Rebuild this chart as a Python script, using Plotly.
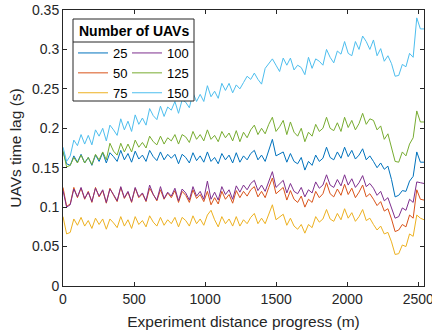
import plotly.graph_objects as go

# ---------------- data ----------------
n_points = 101
distance = [round(25.4 * i, 1) for i in range(n_points)]  # experiment distance progress (m)

uav_counts = ["25", "50", "75", "100", "125", "150"]

lag_25 = [0.170, 0.155, 0.153, 0.165, 0.157, 0.167, 0.156, 0.163, 0.153, 0.166,
          0.158, 0.169, 0.156, 0.169, 0.164, 0.158, 0.172, 0.160, 0.168, 0.157,
          0.171, 0.161, 0.166, 0.158, 0.172, 0.164, 0.159, 0.170, 0.160, 0.167,
          0.162, 0.167, 0.155, 0.167, 0.163, 0.156, 0.169, 0.159, 0.165, 0.157,
          0.170, 0.158, 0.163, 0.155, 0.168, 0.160, 0.166, 0.156, 0.169, 0.157,
          0.165, 0.160, 0.168, 0.172, 0.160, 0.166, 0.158, 0.172, 0.186, 0.165,
          0.168, 0.170, 0.157, 0.168, 0.158, 0.155, 0.163, 0.147, 0.158, 0.153,
          0.166, 0.158, 0.162, 0.176, 0.163, 0.160, 0.170, 0.162, 0.176, 0.164,
          0.172, 0.161, 0.166, 0.174, 0.160, 0.165, 0.158, 0.150, 0.156, 0.148,
          0.152, 0.135, 0.113, 0.115, 0.121, 0.120, 0.133, 0.139, 0.170, 0.157, 0.157]

lag_50 = [0.125, 0.101, 0.104, 0.125, 0.112, 0.124, 0.110, 0.120, 0.106, 0.125,
          0.113, 0.121, 0.105, 0.124, 0.115, 0.107, 0.125, 0.111, 0.119, 0.106,
          0.124, 0.112, 0.117, 0.107, 0.124, 0.115, 0.108, 0.122, 0.110, 0.118,
          0.112, 0.121, 0.106, 0.120, 0.115, 0.106, 0.122, 0.111, 0.116, 0.107,
          0.120, 0.103, 0.112, 0.104, 0.120, 0.110, 0.116, 0.105, 0.121, 0.112,
          0.120, 0.114, 0.122, 0.126, 0.113, 0.120, 0.112, 0.125, 0.137, 0.117,
          0.121, 0.125, 0.109, 0.121, 0.110, 0.106, 0.114, 0.100, 0.110, 0.106,
          0.120, 0.112, 0.117, 0.131, 0.117, 0.113, 0.123, 0.115, 0.129, 0.116,
          0.124, 0.112, 0.119, 0.128, 0.113, 0.117, 0.110, 0.102, 0.107, 0.095,
          0.098, 0.085, 0.069, 0.071, 0.078, 0.075, 0.090, 0.086, 0.122, 0.110, 0.109]

lag_75 = [0.088, 0.066, 0.068, 0.085, 0.077, 0.087, 0.076, 0.083, 0.073, 0.086,
          0.078, 0.085, 0.072, 0.085, 0.080, 0.074, 0.088, 0.076, 0.084, 0.073,
          0.088, 0.078, 0.083, 0.075, 0.089, 0.081, 0.076, 0.087, 0.077, 0.084,
          0.079, 0.087, 0.075, 0.087, 0.083, 0.076, 0.089, 0.079, 0.085, 0.077,
          0.090, 0.096, 0.084, 0.075, 0.088, 0.079, 0.085, 0.076, 0.088, 0.076,
          0.084, 0.079, 0.087, 0.092, 0.079, 0.086, 0.079, 0.092, 0.103, 0.084,
          0.088, 0.091, 0.077, 0.086, 0.076, 0.072, 0.078, 0.067, 0.078, 0.074,
          0.088, 0.081, 0.085, 0.097, 0.085, 0.082, 0.092, 0.084, 0.098, 0.086,
          0.093, 0.082, 0.088, 0.097, 0.083, 0.086, 0.078, 0.071, 0.076, 0.066,
          0.068, 0.056, 0.040, 0.041, 0.052, 0.050, 0.066, 0.063, 0.090, 0.086, 0.084]

lag_100 = [0.121, 0.100, 0.103, 0.123, 0.113, 0.125, 0.111, 0.119, 0.107, 0.124,
           0.114, 0.122, 0.106, 0.123, 0.116, 0.108, 0.126, 0.112, 0.120, 0.107,
           0.125, 0.113, 0.118, 0.108, 0.128, 0.116, 0.109, 0.126, 0.111, 0.119,
           0.114, 0.124, 0.108, 0.123, 0.118, 0.109, 0.126, 0.114, 0.120, 0.110,
           0.133, 0.110, 0.119, 0.109, 0.126, 0.116, 0.122, 0.110, 0.127, 0.119,
           0.128, 0.122, 0.130, 0.134, 0.121, 0.128, 0.120, 0.133, 0.145, 0.125,
           0.130, 0.134, 0.118, 0.130, 0.120, 0.117, 0.125, 0.113, 0.122, 0.118,
           0.132, 0.124, 0.128, 0.141, 0.128, 0.125, 0.135, 0.127, 0.141, 0.128,
           0.136, 0.125, 0.131, 0.140, 0.126, 0.130, 0.124, 0.115, 0.120, 0.108,
           0.112, 0.100, 0.086, 0.088, 0.099, 0.096, 0.110, 0.106, 0.132, 0.131, 0.130]

lag_125 = [0.172, 0.151, 0.153, 0.163, 0.156, 0.166, 0.156, 0.163, 0.154, 0.167,
           0.160, 0.170, 0.160, 0.181, 0.171, 0.166, 0.181, 0.170, 0.180, 0.170,
           0.185, 0.176, 0.182, 0.175, 0.190, 0.183, 0.179, 0.190, 0.180, 0.188,
           0.184, 0.192, 0.180, 0.192, 0.189, 0.182, 0.196, 0.186, 0.192, 0.184,
           0.198, 0.186, 0.191, 0.183, 0.196, 0.188, 0.194, 0.184, 0.197, 0.183,
           0.195, 0.188, 0.198, 0.204, 0.192, 0.200, 0.193, 0.205, 0.214, 0.196,
           0.202, 0.210, 0.192, 0.208, 0.195, 0.190, 0.200, 0.183, 0.195, 0.190,
           0.205, 0.196, 0.200, 0.214, 0.200, 0.197, 0.207, 0.196, 0.214, 0.201,
           0.210, 0.198, 0.206, 0.219, 0.205, 0.212, 0.210, 0.198, 0.203, 0.186,
           0.193, 0.175, 0.158, 0.157, 0.170, 0.165, 0.180, 0.188, 0.222, 0.208, 0.208]

lag_150 = [0.176, 0.158, 0.165, 0.185, 0.178, 0.192, 0.180, 0.191, 0.179, 0.198,
           0.190, 0.200, 0.184, 0.204, 0.198, 0.191, 0.212, 0.198, 0.209, 0.196,
           0.217, 0.205, 0.213, 0.204, 0.225, 0.216, 0.211, 0.228, 0.215, 0.227,
           0.223, 0.234, 0.219, 0.236, 0.233, 0.226, 0.245, 0.234, 0.243, 0.234,
           0.254, 0.240, 0.247, 0.238, 0.257, 0.248, 0.257, 0.245, 0.255, 0.250,
           0.258, 0.266, 0.262, 0.270, 0.262, 0.256, 0.276, 0.282, 0.288, 0.280,
           0.272, 0.289, 0.280, 0.289, 0.274, 0.280, 0.277, 0.268, 0.290, 0.276,
           0.288, 0.285, 0.280, 0.300, 0.290, 0.283, 0.298, 0.294, 0.310, 0.295,
           0.292, 0.310, 0.300, 0.317, 0.310, 0.300, 0.312, 0.292, 0.301, 0.285,
           0.292, 0.282, 0.266, 0.267, 0.281, 0.278, 0.295, 0.290, 0.340, 0.326, 0.326]

series_values = [lag_25, lag_50, lag_75, lag_100, lag_125, lag_150]

x_tick_values = [0, 500, 1000, 1500, 2000, 2500]
y_tick_values = [0, 0.05, 0.1, 0.15, 0.2, 0.25, 0.3, 0.35]
y_tick_labels = ["0", "0.05", "0.1", "0.15", "0.2", "0.25", "0.3", "0.35"]

# ---------------- style ----------------
colors = ["#0072BD", "#D95319", "#EDB120", "#7E2F8E", "#77AC30", "#4DBEEE"]
legend_of = ["legend", "legend", "legend", "legend2", "legend2", "legend2"]
FONT = "Liberation Sans, Arial, Helvetica, sans-serif"
AX = "#262626"

W, H = 432, 335
ml, mr, mt, mb = 63, 8, 10, 49
pw, ph = W - ml - mr, H - mt - mb


def px_x(p):
    return (p - ml) / pw


def px_y(p):
    return (H - mb - p) / ph


fig = go.Figure()
for name, vals, col, lg in zip(uav_counts, series_values, colors, legend_of):
    fig.add_trace(go.Scatter(
        x=distance, y=vals, mode="lines", name=name,
        line=dict(color=col, width=1), legend=lg,
    ))

axis_common = dict(
    showline=True, linecolor=AX, linewidth=1, mirror="ticks",
    ticks="inside", ticklen=4, tickwidth=1, tickcolor=AX,
    showgrid=False, zeroline=False, ticklabeloverflow="allow",
    tickfont=dict(family=FONT, size=14, color=AX),
)

legend_common = dict(xanchor="left", yanchor="top",
                     bgcolor="rgba(0,0,0,0)", borderwidth=0, tracegroupgap=0,
                     font=dict(family=FONT, size=13, color="black"))

fig.update_layout(
    width=W, height=H,
    margin=dict(l=ml, r=mr, t=mt, b=mb, autoexpand=False),
    paper_bgcolor="white", plot_bgcolor="white",
    font=dict(family=FONT, color=AX),
    xaxis=dict(range=[0, 2540], tickvals=x_tick_values,
               title=dict(text="Experiment distance progress (m)",
                          font=dict(family=FONT, size=15.5, color=AX), standoff=10),
               **axis_common),
    yaxis=dict(range=[0, 0.35], tickvals=y_tick_values, ticktext=y_tick_labels,
               title=dict(text="UAVs time lag (s)",
                          font=dict(family=FONT, size=15.5, color=AX), standoff=6),
               **axis_common),
    legend=dict(x=px_x(73), y=px_y(38), **legend_common),
    legend2=dict(x=px_x(127), y=px_y(38), **legend_common),
    shapes=[
        dict(type="rect", xref="paper", yref="paper",
             x0=px_x(73), x1=px_x(194), y0=px_y(101), y1=px_y(19),
             line=dict(color=AX, width=1), fillcolor="white", layer="above"),
        dict(type="line", xref="paper", yref="paper",
             x0=px_x(73), x1=px_x(194), y0=px_y(42), y1=px_y(42),
             line=dict(color=AX, width=1), layer="above"),
    ],
    annotations=[
        dict(text="<b>Number of UAVs</b>", xref="paper", yref="paper",
             x=px_x(133.5), y=px_y(31), xanchor="center", yanchor="middle",
             showarrow=False, font=dict(family=FONT, size=14, color="black")),
    ],
)

fig.write_html("out.html")
